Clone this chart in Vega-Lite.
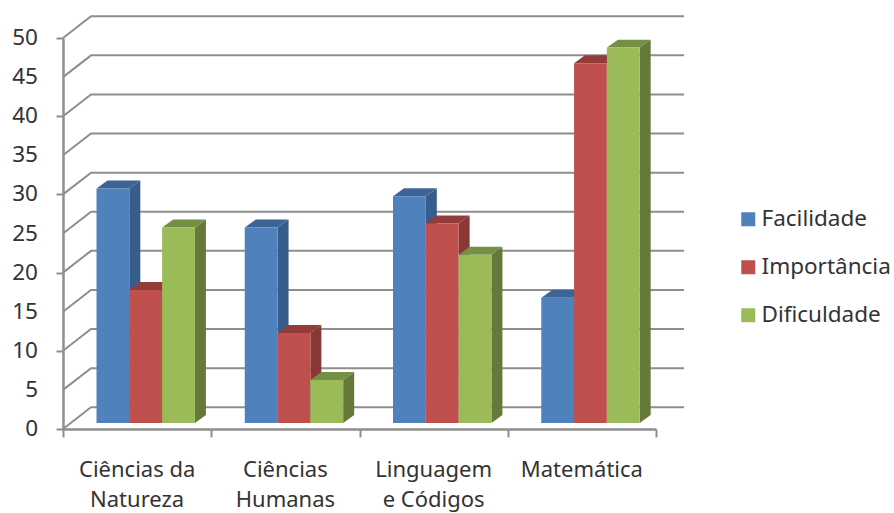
{
  "$schema": "https://vega.github.io/schema/vega-lite/v6.json",
  "width": 593,
  "height": 391,
  "autosize": "none",
  "padding": {"left": 63, "top": 38, "right": 238, "bottom": 84},
  "background": "white",
  "view": {"stroke": null},
  "config": {"font": "Noto Sans"},
  "datasets": {
    "notas": [
      {"area": "Ciências da Natureza", "serie": "Facilidade", "valor": 30},
      {"area": "Ciências da Natureza", "serie": "Importância", "valor": 17},
      {"area": "Ciências da Natureza", "serie": "Dificuldade", "valor": 25},
      {"area": "Ciências Humanas", "serie": "Facilidade", "valor": 25},
      {"area": "Ciências Humanas", "serie": "Importância", "valor": 11.5},
      {"area": "Ciências Humanas", "serie": "Dificuldade", "valor": 5.5},
      {"area": "Linguagem e Códigos", "serie": "Facilidade", "valor": 29},
      {"area": "Linguagem e Códigos", "serie": "Importância", "valor": 25.5},
      {"area": "Linguagem e Códigos", "serie": "Dificuldade", "valor": 21.5},
      {"area": "Matemática", "serie": "Facilidade", "valor": 16},
      {"area": "Matemática", "serie": "Importância", "valor": 46},
      {"area": "Matemática", "serie": "Dificuldade", "valor": 48}
    ],
    "grade": [
      {"nivel": 0}, {"nivel": 5}, {"nivel": 10}, {"nivel": 15}, {"nivel": 20}, {"nivel": 25},
      {"nivel": 30}, {"nivel": 35}, {"nivel": 40}, {"nivel": 45}, {"nivel": 50}
    ],
    "rotulos": [
      {"ordem": 0, "texto": "Ciências da\nNatureza"},
      {"ordem": 1, "texto": "Ciências\nHumanas"},
      {"ordem": 2, "texto": "Linguagem\ne Códigos"},
      {"ordem": 3, "texto": "Matemática"}
    ]
  },
  "resolve": {"scale": {"color": "independent"}},
  "layer": [
    {
      "data": {"name": "grade"},
      "transform": [
        {"calculate": "0", "as": "canto"},
        {"calculate": "0.189", "as": "fundo"},
        {"calculate": "4.189", "as": "fim"},
        {"fold": ["canto", "fundo", "fim"], "as": ["ponto", "xp"]},
        {"calculate": "datum.nivel + (datum.ponto === 'canto' ? 0 : 2.78)", "as": "yp"}
      ],
      "mark": {"type": "line", "stroke": "#8e8e8e", "strokeWidth": 2},
      "encoding": {
        "x": {
          "field": "xp", "type": "quantitative", "title": null,
          "scale": {"domain": [0, 4], "nice": false, "zero": false},
          "axis": {
            "values": [0, 1, 2, 3, 4], "labels": false, "title": null, "grid": false,
            "domainColor": "#8e8e8e", "domainWidth": 2.5, "tickColor": "#8e8e8e", "tickWidth": 2, "tickSize": 8
          }
        },
        "y": {
          "field": "yp", "type": "quantitative", "title": null,
          "scale": {"domain": [0, 50], "nice": false},
          "axis": {
            "values": [0, 5, 10, 15, 20, 25, 30, 35, 40, 45, 50], "labels": false, "title": null, "grid": false,
            "domainColor": "#8e8e8e", "domainWidth": 2.5, "tickColor": "#8e8e8e", "tickWidth": 2, "tickSize": 7
          }
        },
        "detail": {"field": "nivel"}
      }
    },
    {
      "data": {"name": "grade"},
      "transform": [{"calculate": "0", "as": "margem"}],
      "mark": {
        "type": "text", "fontSize": 22.5, "fill": "#333333",
        "align": "right", "baseline": "middle", "xOffset": -25
      },
      "encoding": {
        "x": {"field": "margem", "type": "quantitative", "title": null},
        "y": {"field": "nivel", "type": "quantitative", "title": null},
        "text": {"field": "nivel", "type": "quantitative"}
      }
    },
    {
      "data": {"name": "notas"},
      "transform": [
        {"calculate": "indexof(['Ciências da Natureza','Ciências Humanas','Linguagem e Códigos','Matemática'], datum.area)", "as": "c"},
        {"calculate": "indexof(['Facilidade','Importância','Dificuldade'], datum.serie)", "as": "s"},
        {"calculate": "datum.c + 0.226 + datum.s * 0.2213 + 0.2213", "as": "xa"},
        {"calculate": "datum.xa + 0.0742", "as": "xb"},
        {"fold": ["xa", "xb"], "as": ["lado", "xp"]},
        {"calculate": "datum.lado === 'xa' ? 0 : 1.02", "as": "sobe"},
        {"calculate": "datum.valor + 0.77 + datum.sobe", "as": "topo"},
        {"calculate": "0.77 + datum.sobe", "as": "base"},
        {"calculate": "datum.area + datum.serie", "as": "barra"}
      ],
      "mark": {"type": "area", "orient": "vertical"},
      "encoding": {
        "x": {"field": "xp", "type": "quantitative", "title": null},
        "y": {"field": "topo", "type": "quantitative", "title": null, "stack": null},
        "y2": {"field": "base"},
        "detail": {"field": "barra"},
        "color": {
          "field": "serie", "type": "nominal", "legend": null,
          "scale": {"domain": ["Facilidade", "Importância", "Dificuldade"], "range": ["#375d8c", "#8a3735", "#65793a"]}
        }
      }
    },
    {
      "data": {"name": "notas"},
      "transform": [
        {"calculate": "indexof(['Ciências da Natureza','Ciências Humanas','Linguagem e Códigos','Matemática'], datum.area)", "as": "c"},
        {"calculate": "indexof(['Facilidade','Importância','Dificuldade'], datum.serie)", "as": "s"},
        {"calculate": "datum.c + 0.226 + datum.s * 0.2213", "as": "p0"},
        {"calculate": "datum.p0 + 0.0742", "as": "p1"},
        {"calculate": "datum.p0 + 0.2213", "as": "p2"},
        {"calculate": "datum.p2 + 0.0742", "as": "p3"},
        {"fold": ["p0", "p1", "p2", "p3"], "as": ["canto", "xp"]},
        {"calculate": "datum.valor + 0.77 + (datum.canto === 'p3' ? 1.02 : 0)", "as": "baixo"},
        {"calculate": "datum.valor + 0.77 + (datum.canto === 'p0' ? 0 : 1.02)", "as": "alto"},
        {"calculate": "datum.area + datum.serie", "as": "barra"}
      ],
      "mark": {"type": "area", "orient": "vertical"},
      "encoding": {
        "x": {"field": "xp", "type": "quantitative", "title": null},
        "y": {"field": "alto", "type": "quantitative", "title": null, "stack": null},
        "y2": {"field": "baixo"},
        "detail": {"field": "barra"},
        "color": {
          "field": "serie", "type": "nominal", "legend": null,
          "scale": {"domain": ["Facilidade", "Importância", "Dificuldade"], "range": ["#3c6596", "#953b39", "#758f45"]}
        }
      }
    },
    {
      "data": {"name": "notas"},
      "transform": [
        {"calculate": "indexof(['Ciências da Natureza','Ciências Humanas','Linguagem e Códigos','Matemática'], datum.area)", "as": "c"},
        {"calculate": "indexof(['Facilidade','Importância','Dificuldade'], datum.serie)", "as": "s"},
        {"calculate": "datum.c + 0.226 + datum.s * 0.2213", "as": "esq"},
        {"calculate": "datum.esq + 0.2213", "as": "dir"},
        {"calculate": "datum.valor + 0.77", "as": "topo"},
        {"calculate": "0.77", "as": "base"}
      ],
      "mark": {"type": "rect"},
      "encoding": {
        "x": {"field": "esq", "type": "quantitative", "title": null},
        "x2": {"field": "dir"},
        "y": {"field": "topo", "type": "quantitative", "title": null},
        "y2": {"field": "base"},
        "color": {
          "field": "serie", "type": "nominal",
          "scale": {"domain": ["Facilidade", "Importância", "Dificuldade"], "range": ["#4f81bd", "#c0504d", "#9bbb59"]},
          "legend": {
            "orient": "none", "legendX": 674, "legendY": 170, "title": null,
            "symbolType": "square", "symbolSize": 196, "symbolStrokeWidth": 0, "symbolOpacity": 1,
            "labelFontSize": 22.5, "labelColor": "#333333", "labelOffset": 2, "rowPadding": 25, "labelLimit": 200
          }
        }
      }
    },
    {
      "data": {"name": "rotulos"},
      "transform": [
        {"calculate": "datum.ordem + 0.5", "as": "meio"},
        {"calculate": "0", "as": "zero"}
      ],
      "mark": {
        "type": "text", "lineBreak": "\n", "lineHeight": 30, "fontSize": 22, "fill": "#333333",
        "align": "center", "baseline": "top", "yOffset": 31
      },
      "encoding": {
        "x": {"field": "meio", "type": "quantitative", "title": null},
        "y": {"field": "zero", "type": "quantitative", "title": null},
        "text": {"field": "texto"}
      }
    }
  ]
}
